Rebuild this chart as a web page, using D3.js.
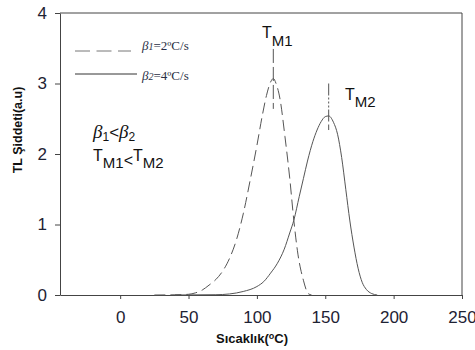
<!DOCTYPE html>
<html>
<head>
<meta charset="utf-8">
<script src="https://cdn.jsdelivr.net/npm/d3@7"></script>
<style>
  html, body { margin: 0; padding: 0; background: #fff; }
  svg { display: block; }
</style>
</head>
<body>
<div id="chart"></div>
<script>
// TL glow curves (temperature in °C, intensity in a.u.)
const tempB1 = [25, 40, 50, 55, 60, 65, 70, 75, 80, 85, 90, 95, 100, 104, 107, 110, 112, 114, 117, 120.5, 124, 127, 130, 134, 137.5, 140];
const intB1  = [0, 0.003, 0.01, 0.03, 0.07, 0.14, 0.22, 0.34, 0.52, 0.78, 1.15, 1.62, 2.12, 2.55, 2.83, 3.02, 3.07, 3.0, 2.77, 2.25, 1.66, 1.06, 0.58, 0.21, 0.02, 0];

const tempB2 = [40, 70, 80, 90, 100, 105, 110, 115, 120, 124, 127, 131, 134, 137, 141, 144, 147, 150, 152.5, 156, 159, 162, 165, 168, 171, 174, 177, 180, 184, 188];
const intB2  = [0, 0.004, 0.015, 0.05, 0.12, 0.19, 0.31, 0.45, 0.65, 0.88, 1.06, 1.4, 1.65, 1.9, 2.18, 2.34, 2.46, 2.53, 2.54, 2.45, 2.28, 1.95, 1.5, 1.05, 0.68, 0.38, 0.18, 0.08, 0.02, 0];

// peak markers (T_M1, T_M2)
const peakT      = [112, 152.5];
const markerTop  = [3.49, 3.0];
const markerBot  = [2.64, 2.34];

const xTicks = [0, 50, 100, 150, 200, 250];
const yTicks = [0, 1, 2, 3, 4];

const W = 475, H = 350;
const margin = { top: 13, right: 13, bottom: 55, left: 60 };

const svg = d3.select('#chart').append('svg')
  .attr('width', W)
  .attr('height', H);

const x = d3.scaleLinear().domain([-44, 250]).range([margin.left, W - margin.right]);
const y = d3.scaleLinear().domain([0, 4]).range([H - margin.bottom, margin.top]);

const axisColor = '#444';
const labelColor = '#1e2233';
const sans = '"Liberation Sans", Arial, sans-serif';
const serif = '"Liberation Serif", "Times New Roman", serif';

// frame (top + right)
svg.append('path')
  .attr('d', `M${x(-44)},${y(4)}H${x(250)}V${y(0)}`)
  .attr('fill', 'none')
  .attr('stroke', axisColor)
  .attr('stroke-width', 1);

// axes
const xAxis = svg.append('g')
  .attr('transform', `translate(0,${y(0)})`)
  .call(d3.axisBottom(x).tickValues(xTicks).tickFormat(d3.format('d')).tickSize(4).tickPadding(12).tickSizeOuter(0));
xAxis.select('.domain').attr('stroke', axisColor);
xAxis.selectAll('line').attr('stroke', axisColor);
xAxis.selectAll('text')
  .attr('fill', labelColor)
  .attr('font-size', '17px')
  .attr('font-family', sans);

const yAxis = svg.append('g')
  .attr('transform', `translate(${x(-44)},0)`)
  .call(d3.axisLeft(y).tickValues(yTicks).tickFormat(d3.format('d')).tickSize(5).tickPadding(8).tickSizeOuter(0));
yAxis.select('.domain').attr('stroke', axisColor);
yAxis.selectAll('line').attr('stroke', axisColor);
yAxis.selectAll('text')
  .attr('fill', labelColor)
  .attr('font-size', '17px')
  .attr('font-family', sans);

// axis titles
svg.append('text')
  .attr('x', 252)
  .attr('y', 343)
  .attr('text-anchor', 'middle')
  .attr('font-family', sans)
  .attr('font-weight', 'bold')
  .attr('font-size', '13px')
  .attr('fill', '#111')
  .html('Sıcaklık(<tspan font-size="9px" dy="-4">o</tspan><tspan dy="4">C)</tspan>');

svg.append('text')
  .attr('transform', 'translate(22,130) rotate(-90)')
  .attr('text-anchor', 'middle')
  .attr('font-family', sans)
  .attr('font-weight', 'bold')
  .attr('font-size', '12.5px')
  .attr('fill', '#111')
  .text('TL Şiddeti(a.u)');

// curves
const line = d3.line()
  .x(d => x(d[0]))
  .y(d => y(d[1]))
  .curve(d3.curveMonotoneX);

const curveColor = '#555';

svg.append('path')
  .datum(tempB1.map((t, i) => [t, intB1[i]]))
  .attr('d', line)
  .attr('fill', 'none')
  .attr('stroke', curveColor)
  .attr('stroke-width', 1)
  .attr('stroke-dasharray', '11,5');

svg.append('path')
  .datum(tempB2.map((t, i) => [t, intB2[i]]))
  .attr('d', line)
  .attr('fill', 'none')
  .attr('stroke', curveColor)
  .attr('stroke-width', 1);

// peak markers
svg.selectAll('.marker')
  .data(peakT)
  .join('line')
  .attr('class', 'marker')
  .attr('x1', d => x(d))
  .attr('x2', d => x(d))
  .attr('y1', (d, i) => y(markerTop[i]))
  .attr('y2', (d, i) => y(markerBot[i]))
  .attr('stroke', curveColor)
  .attr('stroke-width', 1)
  .attr('stroke-dasharray', (d, i) => i === 0 ? '14,4' : '12,2,2,2,2,2,2,2,12,3,9');

// legend
const legend = svg.append('g');
legend.append('line')
  .attr('x1', 75).attr('x2', 131).attr('y1', 51).attr('y2', 51)
  .attr('stroke', '#777').attr('stroke-width', 1).attr('stroke-dasharray', '15,6.5');
legend.append('line')
  .attr('x1', 75).attr('x2', 137).attr('y1', 74).attr('y2', 74)
  .attr('stroke', '#333').attr('stroke-width', 1);

legend.append('text')
  .attr('x', 142).attr('y', 49.5)
  .attr('font-family', serif).attr('font-size', '13px').attr('fill', '#2a2f45')
  .html('<tspan font-style="italic">β</tspan><tspan font-style="italic" font-size="10px">1</tspan>=2ºC/s');
legend.append('text')
  .attr('x', 142).attr('y', 80)
  .attr('font-family', serif).attr('font-size', '13px').attr('fill', '#2a2f45')
  .html('<tspan font-style="italic">β</tspan><tspan font-style="italic" font-size="10px">2</tspan>=4ºC/s');

// annotations
svg.append('text')
  .attr('x', 93).attr('y', 138)
  .attr('font-family', sans).attr('font-size', '17px').attr('fill', '#111')
  .html(`<tspan font-family='${serif}' font-style="italic" font-size="19px">β</tspan><tspan font-size="12px" dy="3">1</tspan><tspan dy="-3">&lt;</tspan><tspan font-family='${serif}' font-style="italic" font-size="19px">β</tspan><tspan font-size="12px" dy="3">2</tspan>`);

svg.append('text')
  .attr('x', 93).attr('y', 161)
  .attr('font-family', sans).attr('font-size', '16px').attr('fill', '#111')
  .html('T<tspan font-size="15px" dy="7">M1</tspan><tspan dy="-2">&lt;</tspan><tspan dy="-5">T</tspan><tspan font-size="15px" dy="7">M2</tspan>');

// peak labels
svg.append('text')
  .attr('x', 262).attr('y', 38)
  .attr('font-family', sans).attr('font-size', '16px').attr('fill', '#111')
  .html('T<tspan font-size="15px" dy="8">M1</tspan>');
svg.append('text')
  .attr('x', 345).attr('y', 100)
  .attr('font-family', sans).attr('font-size', '16px').attr('fill', '#111')
  .html('T<tspan font-size="15px" dy="7">M2</tspan>');
</script>
</body>
</html>
